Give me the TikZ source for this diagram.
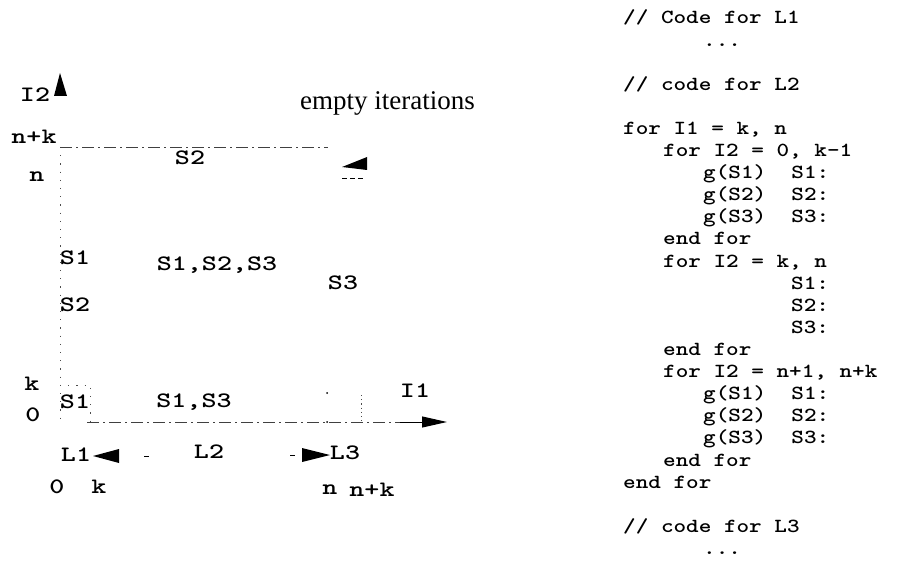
\documentclass[tikz,border=0pt]{standalone}
\usepackage{fontspec}
\newfontfamily\timesfont{Liberation Serif}
\usetikzlibrary{arrows.meta}
\newcommand{\codetext}[1]{\scalebox{1.2}[1]{\fontsize{20}{20}\selectfont\ttfamily\bfseries #1}}
\newcommand{\plotlbl}[1]{\scalebox{1.3}[1]{\fontsize{22}{22}\selectfont\ttfamily\bfseries #1}}
\tikzset{
  codeline/.style={anchor=base west, inner sep=0pt},
  lbl/.style={inner sep=0pt},
  dashdotline/.style={line width=0.8pt, black!75, dash pattern=on 12pt off 4pt on 2pt off 4pt},
  dotline/.style={line width=0.9pt, black!70, dash pattern=on 1.2pt off 7pt},
  tip/.style={fill=black}
}
\begin{document}
\begin{tikzpicture}[x=1pt,y=-1pt]
\useasboundingbox (0,0) rectangle (900,564);

% ---------- plot ----------
\coordinate (Ytop) at (60,147);
\coordinate (Ybot) at (60,422);
\coordinate (Tr) at (328,147);
\coordinate (Xl) at (87,422);
\coordinate (Xm) at (400,422);
\coordinate (Xr) at (447,422);
\draw[dotline] (Ytop) -- (Ybot);
\draw[dashdotline] (Ytop) -- (Tr);
\draw[dashdotline] (Xl) -- (Xm);
\draw[line width=1pt, -{Triangle[length=25pt,width=11pt,fill=black]}] (Xm) -- (Xr);

% y axis arrowhead
\fill[tip] (54,96) -- (60,73) -- (67,96) -- cycle;
% empty iterations arrow
\fill[tip] (342,167) -- (367,157) -- (367,170) -- cycle;
\coordinate (Ea) at (342,178);
\coordinate (Eb) at (363,178);
\draw[line width=0.8pt, dash pattern=on 5pt off 3pt] (Ea) -- (Eb);
% L1 and L3 arrows
\fill[tip] (93,456) -- (119,449) -- (119,463) -- cycle;
\fill[tip] (330,455) -- (302,448) -- (302,462) -- cycle;
\coordinate (D1a) at (144,456); \coordinate (D1b) at (149,456);
\coordinate (D3a) at (290,455); \coordinate (D3b) at (295,455);
\draw[line width=0.8pt] (D1a) -- (D1b);
\draw[line width=0.8pt] (D3a) -- (D3b);
% small dotted region marks
\coordinate (Ka) at (60,385); \coordinate (Kb) at (90,385); \coordinate (Kc) at (90,422);
\draw[dotline] (Ka) -- (Kb) -- (Kc);
\coordinate (Na) at (361,395); \coordinate (Nb) at (361,422);
\draw[dotline, dash pattern=on 1.2pt off 3pt] (Na) -- (Nb);
\fill (327,393) circle (1pt);
\fill (327,422) circle (1pt);

% labels
\node[lbl] (lI2) at (35,95) {\plotlbl{I2}};
\node[lbl] (lnk) at (34,137) {\plotlbl{n+k}};
\node[lbl] (ln) at (37,177) {\plotlbl{n}};
\node[lbl] (lS2t) at (190,158) {\plotlbl{S2}};
\node[anchor=west, inner sep=0pt] (lempty) at (300,103) {\fontsize{27}{27}\selectfont\timesfont empty iterations};
\node[lbl] (lS1a) at (75,258) {\plotlbl{S1}};
\node[lbl] (lS123) at (217,265) {\plotlbl{S1,S2,S3}};
\node[lbl] (lS3) at (343,283) {\plotlbl{S3}};
\node[lbl] (lS2b) at (75,305) {\plotlbl{S2}};
\node[lbl] (lk) at (32,384) {\plotlbl{k}};
\node[lbl] (l0) at (33,415) {\plotlbl{0}};
\node[lbl] (lS1b) at (75,402) {\plotlbl{S1}};
\node[lbl] (lS13) at (194,402) {\plotlbl{S1,S3}};
\node[lbl] (lI1) at (415,391) {\plotlbl{I1}};
\node[lbl] (lL1) at (76,455) {\plotlbl{L1}};
\node[lbl] (lL2) at (209,452) {\plotlbl{L2}};
\node[lbl] (lL3) at (345,453) {\plotlbl{L3}};
\node[lbl] (lx0) at (57,487) {\plotlbl{0}};
\node[lbl] (lxk) at (99,487) {\plotlbl{k}};
\node[lbl] (lxn) at (330,490) {\plotlbl{n}};
\node[lbl] (lxnk) at (372,490) {\plotlbl{n+k}};

% ---------- code ----------
\node[codeline] (c0) at (623,24) {\codetext{// Code for L1}};
\node[codeline] (c1) at (703,46.1) {\codetext{...}};
\node[codeline] (c3) at (623,90.3) {\codetext{// code for L2}};
\node[codeline] (c5) at (623,134.5) {\codetext{for I1 = k, n}};
\node[codeline] (c6) at (663,156.6) {\codetext{for I2 = 0, k-1}};
\node[codeline] (c7) at (703,178.7) {\codetext{g(S1)~~S1:}};
\node[codeline] (c8) at (703,200.8) {\codetext{g(S2)~~S2:}};
\node[codeline] (c9) at (703,222.9) {\codetext{g(S3)~~S3:}};
\node[codeline] (c10) at (663,245) {\codetext{end for}};
\node[codeline] (c11) at (663,267.1) {\codetext{for I2 = k, n}};
\node[codeline] (c12) at (791,289.2) {\codetext{S1:}};
\node[codeline] (c13) at (791,311.3) {\codetext{S2:}};
\node[codeline] (c14) at (791,333.4) {\codetext{S3:}};
\node[codeline] (c15) at (663,355.5) {\codetext{end for}};
\node[codeline] (c16) at (663,377.6) {\codetext{for I2 = n+1, n+k}};
\node[codeline] (c17) at (703,399.7) {\codetext{g(S1)~~S1:}};
\node[codeline] (c18) at (703,421.8) {\codetext{g(S2)~~S2:}};
\node[codeline] (c19) at (703,443.9) {\codetext{g(S3)~~S3:}};
\node[codeline] (c20) at (663,466) {\codetext{end for}};
\node[codeline] (c21) at (623,488.1) {\codetext{end for}};
\node[codeline] (c23) at (623,532.3) {\codetext{// code for L3}};
\node[codeline] (c24) at (703,554.4) {\codetext{...}};
\end{tikzpicture}
\end{document}
